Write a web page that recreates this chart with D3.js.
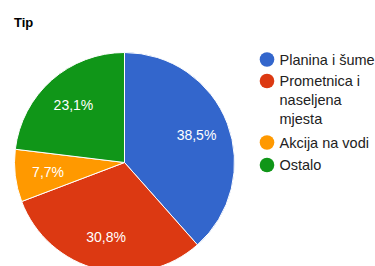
<!DOCTYPE html>
<html>
<head>
<meta charset="utf-8">
<script src="https://cdn.jsdelivr.net/npm/d3@7"></script>
<style>
  body { margin: 0; background: #fff; }
  svg { display: block; font-family: Arial, "Liberation Sans", sans-serif; }
</style>
</head>
<body>
<svg id="chart" width="375" height="266"></svg>
<script>
var title = "Tip";
var categories = ["Planina i šume", "Prometnica i naseljena mjesta", "Akcija na vodi", "Ostalo"];
var legendLines = [["Planina i šume"], ["Prometnica i", "naseljena", "mjesta"], ["Akcija na vodi"], ["Ostalo"]];
var values = [38.5, 30.8, 7.7, 23.1];
var colors = ["#3366cc", "#dc3912", "#ff9900", "#109618"];

var svg = d3.select("#chart"),
  cx = 124.5, cy = 162.5,
  radius = 110,
  labelRadius = 77;

svg.append("text")
  .attr("x", 14)
  .attr("y", 27)
  .attr("font-size", 13)
  .attr("font-weight", "bold")
  .attr("fill", "#000")
  .text(title);

var z = d3.scaleOrdinal().domain(categories).range(colors);

var pie = d3.pie().sort(null).value(function(d, i) { return values[i]; });
var arcs = pie(categories);

var arc = d3.arc().innerRadius(0).outerRadius(radius);
var labelArc = d3.arc().innerRadius(labelRadius).outerRadius(labelRadius);

var g = svg.append("g").attr("transform", "translate(" + cx + "," + cy + ")");

g.selectAll("path")
  .data(arcs)
  .enter().append("path")
    .attr("d", arc)
    .attr("fill", function(d) { return z(d.data); })
    .attr("stroke", "#fff")
    .attr("stroke-width", 1);

g.selectAll("text")
  .data(arcs)
  .enter().append("text")
    .attr("transform", function(d) { return "translate(" + labelArc.centroid(d) + ")"; })
    .attr("text-anchor", "middle")
    .attr("dy", "0.35em")
    .attr("font-size", 14)
    .attr("fill", "#fff")
    .text(function(d, i) { return String(values[i]).replace(".", ",") + "%"; });

// legend
var legend = svg.append("g").attr("transform", "translate(267,0)");
var rowY = [59.5, 81, 142.5, 165];
var lineH = 19;

legendLines.forEach(function(lines, i) {
  var row = legend.append("g").attr("transform", "translate(0," + rowY[i] + ")");
  row.append("circle")
    .attr("r", 7.3)
    .attr("fill", colors[i]);
  lines.forEach(function(t, j) {
    row.append("text")
      .attr("x", 12.5)
      .attr("y", j * lineH)
      .attr("dy", "0.35em")
      .attr("font-size", 14.5)
      .attr("fill", "#222")
      .text(t);
  });
});
</script>
</body>
</html>
